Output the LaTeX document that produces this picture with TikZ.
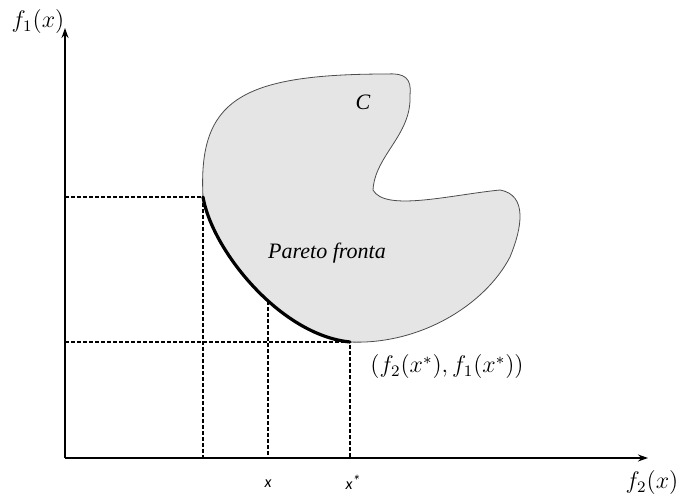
\documentclass[tikz,border=0pt]{standalone}
\usepackage{fontspec}
\setmainfont{Liberation Serif}
\newfontfamily\ticklabelfont{Carlito}
\usepackage{amsmath}
\usetikzlibrary{arrows.meta}
\usetikzlibrary{calc}

\begin{document}
\begin{tikzpicture}[x=0.5pt, y=-0.5pt,
    axis/.style={line width=0.7pt, -{Stealth[length=5pt, width=3.5pt]}},
    guide/.style={line width=0.6pt, dash pattern=on 2pt off 1pt},
    region/.style={fill=gray!20, draw=black!70, line width=0.4pt},
    front/.style={line width=1.6pt, line cap=round},
    tick/.style={font=\ticklabelfont\itshape\fontsize{8}{9}\selectfont}]

    \useasboundingbox (0,0) rectangle (681,496);

    % axes
    \coordinate (O) at (65,458);
    \coordinate (ytop) at (65,28);
    \coordinate (xend) at (648,458);
    \draw[axis] (O) -- (ytop);
    \draw[axis] (O) -- (xend);
    \node (f1) at (38,22) {\fontsize{12}{14}\selectfont $f_1(x)$};
    \node (f2) at (652,483) {\fontsize{12}{14}\selectfont $f_2(x)$};

    % region C
    \coordinate (P1) at (203,197);
    \coordinate (P2) at (350,342);
    \draw[region] (P1) .. controls (212,250) and (280,335) .. (P2)
        .. controls (420,345) and (485,305) .. (510,257)
        .. controls (522,228) and (528,195) .. (500,190)
        .. controls (450,195) and (385,212) .. (373,190)
        .. controls (375,155) and (412,135) .. (410,95)
        .. controls (412,78) and (404,73) .. (388,74)
        .. controls (240,74) and (198,100) .. (P1) -- cycle;

    % Pareto front
    \draw[front] (P1) .. controls (212,250) and (280,335) .. coordinate[pos=0.585] (F) (P2);

    % guides
    \draw[guide] (O |- P1) -- (P1) -- (P1 |- O);
    \draw[guide] (O |- P2) -- (P2) -- (P2 |- O);
    \draw[guide] (F) -- (F |- O);

    \node (C) at (363,102) {\fontsize{11}{13}\selectfont\itshape C};
    \node (pareto) at (327,253) {\fontsize{11}{13}\selectfont\itshape Pareto fronta};
    \node (opt) at (447,367) {\fontsize{11.5}{13}\selectfont $(f_2(x^{*}),f_1(x^{*}))$};
    \node[tick] (x) at (268,484) {x};
    \node[tick] (xstar) at (353,482) {x\raisebox{0.4ex}{*}};
\end{tikzpicture}
\end{document}
